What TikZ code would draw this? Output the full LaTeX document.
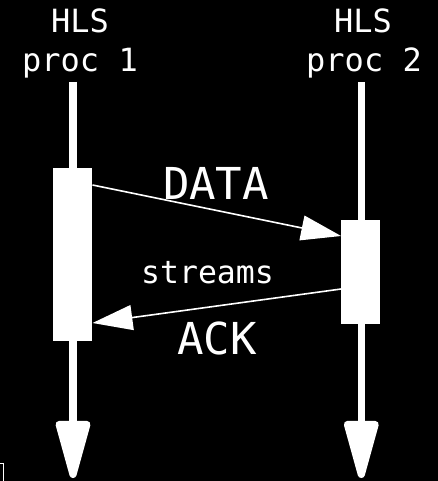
\documentclass[tikz,border=0pt]{standalone}
\usepackage{fontspec}
\setmonofont{DejaVu Sans Mono}
\usetikzlibrary{arrows.meta}

\tikzset{
  proclabel/.style={text=white, font=\ttfamily\fontsize{32}{38}\selectfont, inner sep=0pt, anchor=base},
  msglabel/.style={text=white, font=\ttfamily\fontsize{44}{50}\selectfont, inner sep=0pt, anchor=base},
  streamlabel/.style={text=white, font=\ttfamily\fontsize{31.5}{36}\selectfont, inner sep=0pt, anchor=base},
  lifeline/.style={draw=white, line width=7.2pt,
    -{Triangle[length=68pt, width=35pt, round]}},
  activation/.style={fill=white, draw=none, minimum width=39pt, inner sep=0pt},
  message/.style={draw=white, line width=1.6pt,
    -{Triangle[length=40pt, width=25pt]}},
}

\begin{document}
\begin{tikzpicture}[x=1pt, y=-1pt]
  % canvas
  \fill[black] (0,0) rectangle (438,481);
  \useasboundingbox (0,0) rectangle (438,481);

  % process headers
  \node[proclabel] (h1) at (80,33) {HLS};
  \node[proclabel] (p1) at (80,72) {proc 1};
  \node[proclabel] (h2) at (363,33) {HLS};
  \node[proclabel] (p2) at (364,72) {proc 2};

  % lifelines
  \coordinate (l1top) at (73,82);
  \coordinate (l1end) at (73,478);
  \coordinate (l2top) at (361.3,82);
  \coordinate (l2end) at (361.3,478);
  \draw[lifeline] (l1top) -- (l1end);
  \draw[lifeline] (l2top) -- (l2end);

  % activation bars
  \node[activation, minimum height=172.5pt] (a1) at (72.8,254.5) {};
  \node[activation, minimum height=104pt] (a2) at (360.8,272) {};

  % messages
  \coordinate (dfrom) at (a1.east |- 0,185);
  \coordinate (dto) at (a2.west |- 0,236);
  \draw[message] (dfrom) -- (dto);
  \coordinate (afrom) at (a2.west |- 0,289);
  \coordinate (ato) at (a1.east |- 0,323);
  \draw[message] (afrom) -- (ato);

  % message labels
  \node[msglabel] (data) at (216,199) {DATA};
  \node[streamlabel] (streams) at (207.5,283) {streams};
  \node[msglabel] (ack) at (217,354.3) {ACK};

  % corner mark
  \draw[white, line width=0.8pt] (0,463.5) -- (3.5,463.5) -- (3.5,481);
\end{tikzpicture}
\end{document}
